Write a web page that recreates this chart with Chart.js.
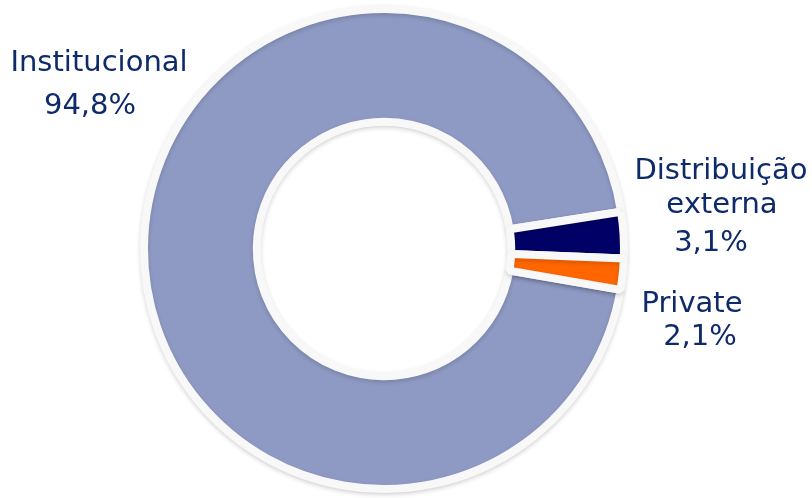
<!DOCTYPE html>
<html lang="pt">
<head>
    <meta charset="UTF-8">
    <title>Distribuição</title>
    <script src="https://cdn.jsdelivr.net/npm/chart.js"></script>
    <style>
        html, body { margin: 0; padding: 0; background: #ffffff; }
        #wrap { width: 812px; height: 498px; }
    </style>
</head>
<body>
    <div id="wrap"><canvas id="donut"></canvas></div>

    <script>
        // dados do gráfico
        const categorias = ['Institucional', 'Distribuição externa', 'Private'];
        const valores = [94.8, 3.1, 2.1];
        const cores = ['#8e9ac4', '#000066', '#ff6600'];

        // linhas de cada rótulo (nome quebrado + percentual)
        const linhasNome = [['Institucional'], ['Distribuição', 'externa'], ['Private']];
        // posição dos rótulos: centro x e linha de base de cada linha
        const posRotulos = [
            { x: [99, 90], y: [71, 114] },
            { x: [721, 722, 711], y: [179, 213, 251] },
            { x: [692, 700], y: [312, 345] }
        ];

        const fmt = v => v.toFixed(1).replace('.', ',') + '%';

        // sombra suave debaixo do anel
        const sombra = {
            id: 'sombra',
            beforeDatasetsDraw(chart) {
                const ctx = chart.ctx;
                ctx.save();
                ctx.shadowColor = 'rgba(0,0,0,0.16)';
                ctx.shadowBlur = 4;
                ctx.shadowOffsetY = 2;
            },
            afterDatasetsDraw(chart) {
                chart.ctx.restore();
            }
        };

        // rótulos fora do anel
        const rotulos = {
            id: 'rotulos',
            afterDraw(chart) {
                const ctx = chart.ctx;
                ctx.save();
                ctx.fillStyle = '#0e2a6b';
                ctx.font = '29px "DejaVu Sans", Verdana, sans-serif';
                ctx.textAlign = 'center';
                ctx.textBaseline = 'alphabetic';
                categorias.forEach((c, i) => {
                    const linhas = linhasNome[i].concat([fmt(valores[i])]);
                    const p = posRotulos[i];
                    linhas.forEach((t, j) => ctx.fillText(t, p.x[j], p.y[j]));
                });
                ctx.restore();
            }
        };

        new Chart(document.getElementById('donut'), {
            type: 'doughnut',
            data: {
                labels: categorias,
                datasets: [{
                    data: valores,
                    backgroundColor: cores,
                    borderColor: '#f8f8f8',
                    borderWidth: 8,
                    hoverOffset: 0
                }]
            },
            options: {
                responsive: true,
                maintainAspectRatio: false,
                animation: false,
                rotation: 99.8,
                cutout: '53%',
                layout: { padding: { left: 140, right: 184, top: 4, bottom: 4 } },
                plugins: {
                    legend: { display: false },
                    tooltip: { enabled: false }
                },
                events: []
            },
            plugins: [sombra, rotulos]
        });
    </script>
</body>
</html>
